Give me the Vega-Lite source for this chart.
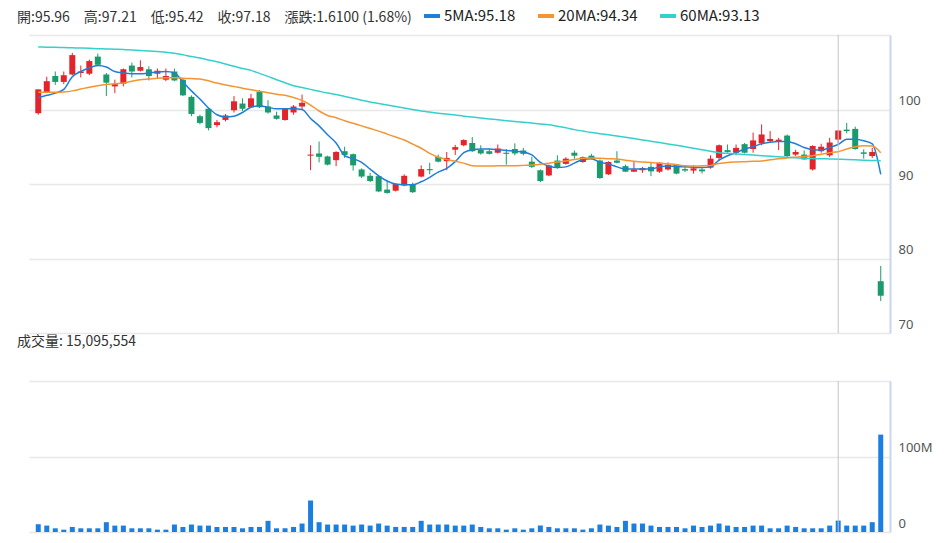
{
  "$schema": "https://vega.github.io/schema/vega-lite/v6.json",
  "padding": {"left": 17, "top": 6, "right": 5, "bottom": 5},
  "spacing": 0,
  "config": {
    "view": {"stroke": null},
    "font": "Noto Sans CJK TC",
    "title": {"font": "Noto Sans CJK TC", "fontWeight": "normal", "fontSize": 14, "color": "#333333", "anchor": "start"}
  },
  "datasets": {
    "k": [
      {"i":0,"o":99.5,"h":102.7,"l":99.3,"c":102.7,"v":10300000,"ma5":101.6,"ma20":102.3,"ma60":108.4},
      {"i":1,"o":102.3,"h":104.4,"l":102.2,"c":103.8,"v":8500000,"ma5":101.9,"ma20":102.3,"ma60":108.37},
      {"i":2,"o":104.5,"h":105.1,"l":103.3,"c":103.7,"v":4900000,"ma5":102.2,"ma20":102.3,"ma60":108.34},
      {"i":3,"o":103.7,"h":105.1,"l":103.4,"c":104.6,"v":3100000,"ma5":102.7,"ma20":102.35,"ma60":108.31},
      {"i":4,"o":104.7,"h":107.6,"l":104.6,"c":107.3,"v":6700000,"ma5":104.4,"ma20":102.5,"ma60":108.28},
      {"i":5,"o":104.9,"h":105.9,"l":104.3,"c":105.1,"v":4900000,"ma5":105.1,"ma20":102.75,"ma60":108.25},
      {"i":6,"o":104.8,"h":106.7,"l":104.6,"c":106.5,"v":4900000,"ma5":105.6,"ma20":103.0,"ma60":108.21},
      {"i":7,"o":107.1,"h":107.5,"l":105.8,"c":106.0,"v":4900000,"ma5":105.9,"ma20":103.2,"ma60":108.17},
      {"i":8,"o":104.7,"h":104.9,"l":101.8,"c":103.6,"v":13000000,"ma5":105.7,"ma20":103.35,"ma60":108.13},
      {"i":9,"o":103.1,"h":104.0,"l":102.2,"c":103.4,"v":8500000,"ma5":105.1,"ma20":103.45,"ma60":108.09},
      {"i":10,"o":103.45,"h":105.5,"l":103.1,"c":105.4,"v":8500000,"ma5":104.9,"ma20":103.55,"ma60":108.05},
      {"i":11,"o":105.9,"h":106.3,"l":104.3,"c":105.1,"v":4900000,"ma5":104.8,"ma20":103.8,"ma60":107.98},
      {"i":12,"o":105.2,"h":106.6,"l":105.1,"c":105.7,"v":4900000,"ma5":104.8,"ma20":104.0,"ma60":107.91},
      {"i":13,"o":105.4,"h":105.8,"l":103.9,"c":104.5,"v":4900000,"ma5":104.9,"ma20":104.1,"ma60":107.84},
      {"i":14,"o":104.8,"h":105.5,"l":104.2,"c":105.2,"v":3100000,"ma5":105.05,"ma20":104.2,"ma60":107.77},
      {"i":15,"o":104.0,"h":105.5,"l":103.8,"c":104.5,"v":3100000,"ma5":105.1,"ma20":104.25,"ma60":107.7},
      {"i":16,"o":105.1,"h":105.5,"l":103.8,"c":103.9,"v":9900000,"ma5":104.9,"ma20":104.25,"ma60":107.55},
      {"i":17,"o":104.0,"h":104.2,"l":101.8,"c":101.9,"v":6700000,"ma5":103.7,"ma20":104.2,"ma60":107.35},
      {"i":18,"o":101.7,"h":101.9,"l":99.1,"c":99.4,"v":9900000,"ma5":102.5,"ma20":104.15,"ma60":107.1},
      {"i":19,"o":99.1,"h":99.3,"l":98.0,"c":98.2,"v":8500000,"ma5":101.4,"ma20":104.1,"ma60":106.9},
      {"i":20,"o":100.1,"h":100.2,"l":97.2,"c":97.5,"v":8500000,"ma5":100.2,"ma20":103.85,"ma60":106.65},
      {"i":21,"o":97.9,"h":98.6,"l":97.6,"c":98.3,"v":6700000,"ma5":99.3,"ma20":103.55,"ma60":106.4},
      {"i":22,"o":98.6,"h":99.4,"l":98.4,"c":99.2,"v":6700000,"ma5":99.0,"ma20":103.3,"ma60":106.1},
      {"i":23,"o":99.9,"h":101.8,"l":99.6,"c":101.1,"v":6700000,"ma5":99.1,"ma20":103.1,"ma60":105.8},
      {"i":24,"o":100.8,"h":101.5,"l":99.8,"c":100.1,"v":4900000,"ma5":99.6,"ma20":102.85,"ma60":105.5},
      {"i":25,"o":100.3,"h":102.1,"l":100.2,"c":101.5,"v":6700000,"ma5":100.3,"ma20":102.65,"ma60":105.25},
      {"i":26,"o":102.4,"h":102.6,"l":100.2,"c":100.3,"v":6700000,"ma5":100.5,"ma20":102.45,"ma60":104.85},
      {"i":27,"o":100.4,"h":101.25,"l":99.45,"c":99.6,"v":14800000,"ma5":100.3,"ma20":102.25,"ma60":104.45},
      {"i":28,"o":99.2,"h":99.7,"l":98.65,"c":98.75,"v":4900000,"ma5":100.1,"ma20":102.05,"ma60":104.0},
      {"i":29,"o":98.6,"h":100.2,"l":98.5,"c":100.1,"v":4900000,"ma5":100.1,"ma20":101.9,"ma60":103.6},
      {"i":30,"o":99.6,"h":100.6,"l":99.3,"c":100.4,"v":6700000,"ma5":100.1,"ma20":101.6,"ma60":103.2},
      {"i":31,"o":100.4,"h":102.0,"l":100.0,"c":100.9,"v":11200000,"ma5":100.0,"ma20":101.2,"ma60":102.95},
      {"i":32,"o":93.8,"h":95.2,"l":91.85,"c":93.95,"v":41700000,"ma5":98.8,"ma20":100.6,"ma60":102.7},
      {"i":33,"o":94.1,"h":95.7,"l":92.9,"c":93.65,"v":13000000,"ma5":97.8,"ma20":99.8,"ma60":102.45},
      {"i":34,"o":93.7,"h":93.8,"l":92.5,"c":92.6,"v":9900000,"ma5":96.6,"ma20":99.2,"ma60":102.2},
      {"i":35,"o":93.2,"h":94.4,"l":92.4,"c":94.3,"v":9900000,"ma5":95.5,"ma20":98.9,"ma60":102.0},
      {"i":36,"o":94.4,"h":95.0,"l":93.5,"c":93.9,"v":9900000,"ma5":93.8,"ma20":98.5,"ma60":101.75},
      {"i":37,"o":94.0,"h":94.1,"l":91.8,"c":92.5,"v":8500000,"ma5":93.4,"ma20":98.15,"ma60":101.5},
      {"i":38,"o":91.95,"h":92.1,"l":90.8,"c":91.0,"v":9900000,"ma5":92.9,"ma20":97.8,"ma60":101.25},
      {"i":39,"o":91.1,"h":91.5,"l":90.25,"c":90.4,"v":8500000,"ma5":92.0,"ma20":97.45,"ma60":101.0},
      {"i":40,"o":91.05,"h":91.15,"l":88.9,"c":89.0,"v":11200000,"ma5":91.1,"ma20":97.1,"ma60":100.8},
      {"i":41,"o":89.25,"h":90.4,"l":88.7,"c":88.8,"v":8500000,"ma5":90.4,"ma20":96.7,"ma60":100.6},
      {"i":42,"o":89.1,"h":90.1,"l":89.0,"c":90.0,"v":6700000,"ma5":90.0,"ma20":96.3,"ma60":100.4},
      {"i":43,"o":89.8,"h":91.3,"l":89.7,"c":91.1,"v":6700000,"ma5":89.9,"ma20":95.9,"ma60":100.2},
      {"i":44,"o":90.0,"h":90.2,"l":88.8,"c":88.9,"v":6700000,"ma5":89.9,"ma20":95.35,"ma60":100.0},
      {"i":45,"o":91.0,"h":92.5,"l":90.9,"c":92.0,"v":14800000,"ma5":90.3,"ma20":94.8,"ma60":99.8},
      {"i":46,"o":92.0,"h":92.85,"l":91.3,"c":91.85,"v":9900000,"ma5":90.9,"ma20":94.1,"ma60":99.65},
      {"i":47,"o":93.65,"h":93.95,"l":92.9,"c":93.0,"v":9900000,"ma5":91.6,"ma20":93.6,"ma60":99.5},
      {"i":48,"o":93.06,"h":94.3,"l":91.85,"c":93.5,"v":9900000,"ma5":92.1,"ma20":93.3,"ma60":99.38},
      {"i":49,"o":94.6,"h":95.25,"l":93.9,"c":94.95,"v":8500000,"ma5":93.0,"ma20":93.05,"ma60":99.25},
      {"i":50,"o":95.2,"h":96.0,"l":95.05,"c":95.9,"v":8500000,"ma5":94.2,"ma20":92.8,"ma60":99.1},
      {"i":51,"o":95.5,"h":96.3,"l":94.3,"c":94.4,"v":9900000,"ma5":94.6,"ma20":92.45,"ma60":98.98},
      {"i":52,"o":94.6,"h":95.2,"l":93.95,"c":94.1,"v":6700000,"ma5":94.7,"ma20":92.4,"ma60":98.86},
      {"i":53,"o":94.4,"h":94.75,"l":93.95,"c":94.05,"v":4900000,"ma5":94.7,"ma20":92.4,"ma60":98.74},
      {"i":54,"o":94.2,"h":95.3,"l":94.1,"c":94.77,"v":4900000,"ma5":94.6,"ma20":92.45,"ma60":98.62},
      {"i":55,"o":94.2,"h":94.7,"l":92.6,"c":94.05,"v":3100000,"ma5":94.5,"ma20":92.45,"ma60":98.5},
      {"i":56,"o":94.7,"h":95.45,"l":93.85,"c":94.1,"v":4900000,"ma5":94.4,"ma20":92.45,"ma60":98.4},
      {"i":57,"o":94.5,"h":94.85,"l":93.85,"c":94.05,"v":3100000,"ma5":94.3,"ma20":92.5,"ma60":98.3},
      {"i":58,"o":93.0,"h":93.65,"l":92.15,"c":92.3,"v":4900000,"ma5":93.9,"ma20":92.55,"ma60":98.18},
      {"i":59,"o":91.85,"h":91.95,"l":90.25,"c":90.4,"v":8500000,"ma5":92.9,"ma20":92.65,"ma60":98.06},
      {"i":60,"o":91.15,"h":92.6,"l":91.05,"c":92.5,"v":6700000,"ma5":92.4,"ma20":92.8,"ma60":97.95},
      {"i":61,"o":93.15,"h":93.85,"l":92.05,"c":92.2,"v":4900000,"ma5":92.2,"ma20":92.95,"ma60":97.75},
      {"i":62,"o":92.7,"h":93.6,"l":92.6,"c":93.4,"v":4900000,"ma5":92.3,"ma20":93.1,"ma60":97.55},
      {"i":63,"o":94.2,"h":94.5,"l":93.4,"c":93.8,"v":4900000,"ma5":92.8,"ma20":93.3,"ma60":97.3},
      {"i":64,"o":92.95,"h":93.7,"l":92.85,"c":93.6,"v":3100000,"ma5":93.3,"ma20":93.45,"ma60":97.1},
      {"i":65,"o":93.8,"h":94.05,"l":93.3,"c":93.4,"v":4900000,"ma5":93.4,"ma20":93.5,"ma60":96.9},
      {"i":66,"o":93.15,"h":93.3,"l":90.7,"c":90.8,"v":9900000,"ma5":92.9,"ma20":93.45,"ma60":96.75},
      {"i":67,"o":91.3,"h":93.05,"l":91.2,"c":92.95,"v":8500000,"ma5":92.7,"ma20":93.4,"ma60":96.6},
      {"i":68,"o":93.15,"h":94.4,"l":92.75,"c":92.85,"v":6700000,"ma5":92.3,"ma20":93.35,"ma60":96.45},
      {"i":69,"o":92.4,"h":92.6,"l":91.6,"c":91.65,"v":14800000,"ma5":92.0,"ma20":93.2,"ma60":96.28},
      {"i":70,"o":91.65,"h":93.0,"l":91.6,"c":91.95,"v":11200000,"ma5":92.0,"ma20":93.05,"ma60":96.1},
      {"i":71,"o":91.85,"h":92.3,"l":91.5,"c":92.15,"v":11200000,"ma5":92.0,"ma20":92.95,"ma60":95.92},
      {"i":72,"o":92.3,"h":92.85,"l":91.05,"c":91.7,"v":8500000,"ma5":92.0,"ma20":92.9,"ma60":95.74},
      {"i":73,"o":91.65,"h":92.9,"l":91.5,"c":92.85,"v":6700000,"ma5":92.3,"ma20":92.8,"ma60":95.56},
      {"i":74,"o":91.95,"h":92.9,"l":91.8,"c":92.6,"v":6700000,"ma5":92.4,"ma20":92.7,"ma60":95.38},
      {"i":75,"o":92.6,"h":92.7,"l":91.3,"c":91.4,"v":6700000,"ma5":92.35,"ma20":92.6,"ma60":95.2},
      {"i":76,"o":92.0,"h":92.4,"l":91.6,"c":91.8,"v":4900000,"ma5":92.3,"ma20":92.45,"ma60":95.0},
      {"i":77,"o":91.8,"h":92.5,"l":91.4,"c":92.1,"v":8500000,"ma5":92.25,"ma20":92.4,"ma60":94.8},
      {"i":78,"o":91.95,"h":92.3,"l":91.4,"c":91.7,"v":6700000,"ma5":92.2,"ma20":92.45,"ma60":94.6},
      {"i":79,"o":92.2,"h":93.85,"l":92.05,"c":93.4,"v":8500000,"ma5":92.3,"ma20":92.5,"ma60":94.4},
      {"i":80,"o":93.5,"h":95.3,"l":93.1,"c":95.2,"v":11200000,"ma5":93.2,"ma20":92.75,"ma60":94.2},
      {"i":81,"o":94.55,"h":95.3,"l":94.2,"c":94.3,"v":8500000,"ma5":93.8,"ma20":92.9,"ma60":94.12},
      {"i":82,"o":94.2,"h":95.3,"l":93.85,"c":94.85,"v":6700000,"ma5":94.2,"ma20":92.95,"ma60":94.04},
      {"i":83,"o":95.35,"h":95.5,"l":94.1,"c":94.2,"v":6700000,"ma5":94.7,"ma20":93.0,"ma60":93.96},
      {"i":84,"o":94.7,"h":96.9,"l":94.2,"c":95.85,"v":8500000,"ma5":95.0,"ma20":93.05,"ma60":93.88},
      {"i":85,"o":95.45,"h":98.0,"l":95.2,"c":96.65,"v":8500000,"ma5":95.4,"ma20":93.1,"ma60":93.8},
      {"i":86,"o":95.75,"h":97.1,"l":95.6,"c":96.05,"v":4900000,"ma5":95.6,"ma20":93.25,"ma60":93.73},
      {"i":87,"o":95.65,"h":96.2,"l":94.55,"c":95.95,"v":4900000,"ma5":95.7,"ma20":93.4,"ma60":93.66},
      {"i":88,"o":96.5,"h":96.65,"l":93.6,"c":93.75,"v":8500000,"ma5":95.7,"ma20":93.5,"ma60":93.59},
      {"i":89,"o":93.95,"h":94.6,"l":93.75,"c":94.3,"v":6700000,"ma5":95.4,"ma20":93.6,"ma60":93.52},
      {"i":90,"o":93.95,"h":94.5,"l":93.25,"c":93.3,"v":4900000,"ma5":94.9,"ma20":93.7,"ma60":93.45},
      {"i":91,"o":91.95,"h":95.2,"l":91.8,"c":95.1,"v":4900000,"ma5":94.6,"ma20":93.8,"ma60":93.42},
      {"i":92,"o":94.4,"h":95.4,"l":94.2,"c":95.0,"v":4900000,"ma5":94.55,"ma20":94.0,"ma60":93.39},
      {"i":93,"o":93.85,"h":96.2,"l":93.6,"c":95.57,"v":8500000,"ma5":94.9,"ma20":94.2,"ma60":93.36},
      {"i":94,"o":95.96,"h":97.21,"l":95.42,"c":97.18,"v":15095554,"ma5":95.3,"ma20":94.34,"ma60":93.33},
      {"i":95,"o":97.3,"h":98.2,"l":96.8,"c":97.1,"v":8500000,"ma5":96.0,"ma20":94.7,"ma60":93.3},
      {"i":96,"o":97.4,"h":97.7,"l":94.6,"c":94.7,"v":8500000,"ma5":96.0,"ma20":95.0,"ma60":93.25},
      {"i":97,"o":94.25,"h":94.65,"l":93.4,"c":94.05,"v":8500000,"ma5":95.8,"ma20":95.15,"ma60":93.2},
      {"i":98,"o":93.75,"h":94.85,"l":93.5,"c":94.3,"v":13000000,"ma5":95.4,"ma20":95.1,"ma60":93.16},
      {"i":99,"o":76.95,"h":79.0,"l":74.3,"c":75.0,"v":129000000,"ma5":91.3,"ma20":94.2,"ma60":93.13}
    ]
  },
  "vconcat": [
    {
      "width": 861,
      "height": 298,
      "title": {"text": "開:95.96\u2003高:97.21\u2003低:95.42\u2003收:97.18\u2003漲跌:1.6100 (1.68%)", "dx": -12, "offset": 10},
      "data": {"name": "k"},
      "layer": [
        {
          "mark": {"type": "rule", "strokeWidth": 1},
          "encoding": {
            "x": {"field": "i", "type": "quantitative", "scale": {"domain": [-0.5, 99.5], "nice": false, "zero": false}, "axis": null},
            "y": {"field": "l", "type": "quantitative", "scale": {"domain": [70, 110], "nice": false, "zero": false},
                  "axis": {"orient": "right", "title": null, "values": [70, 80, 90, 100, 110], "grid": true, "gridColor": "#e8e8e8", "gridWidth": 1.5,
                           "domain": true, "domainColor": "#c8d6ee", "domainWidth": 2, "ticks": false, "labelAlign": "left", "labelBaseline": "bottom",
                           "labelPadding": 8, "labelOffset": -2, "labelFontSize": 13, "labelColor": "#555555", "labelFont": "Noto Sans",
                           "labelExpr": "datum.value >= 110 ? '' : datum.label"}},
            "y2": {"field": "h"},
            "color": {"condition": {"test": "datum.c >= datum.o", "value": "#e3242b"}, "value": "#1b9b6c"}
          }
        },
        {
          "mark": {"type": "bar", "size": 6},
          "encoding": {
            "x": {"field": "i", "type": "quantitative"},
            "y": {"field": "o", "type": "quantitative"},
            "y2": {"field": "c"},
            "color": {"condition": {"test": "datum.c >= datum.o", "value": "#e3242b"}, "value": "#1b9b6c"}
          }
        },
        {
          "transform": [{"fold": ["ma5", "ma20", "ma60"], "as": ["ma", "val"]}],
          "mark": {"type": "line", "strokeWidth": 1.5, "interpolate": "monotone"},
          "encoding": {
            "x": {"field": "i", "type": "quantitative"},
            "y": {"field": "val", "type": "quantitative"},
            "color": {"field": "ma", "type": "nominal",
                      "scale": {"domain": ["ma5", "ma20", "ma60"], "range": ["#1f7fd6", "#f39530", "#35d0cc"]},
                      "legend": {"orient": "none", "legendX": 393, "legendY": -29, "direction": "horizontal", "title": null,
                                 "symbolType": "stroke", "symbolStrokeWidth": 4, "symbolSize": 256, "labelFontSize": 15,
                                 "labelColor": "#222222", "labelFont": "Noto Sans CJK TC", "columnPadding": 14, "labelOffset": 2,
                                 "labelExpr": "datum.label == 'ma5' ? '5MA:95.18' : datum.label == 'ma20' ? '20MA:94.34' : '60MA:93.13'"}}
          }
        },
        {
          "transform": [{"filter": "datum.i == 94"}],
          "mark": {"type": "rule", "color": "#c4c4c4", "strokeWidth": 1},
          "encoding": {"x": {"field": "i", "type": "quantitative"}}
        }
      ]
    },
    {
      "width": 861,
      "height": 151,
      "title": {"text": "成交量: 15,095,554", "dx": -12, "offset": 32},
      "data": {"name": "k"},
      "layer": [
        {
          "mark": {"type": "bar", "size": 5, "color": "#1a7fe0"},
          "encoding": {
            "x": {"field": "i", "type": "quantitative", "scale": {"domain": [-0.5, 99.5], "nice": false, "zero": false}, "axis": null},
            "y": {"field": "v", "type": "quantitative", "scale": {"domain": [0, 200000000], "nice": false},
                  "axis": {"orient": "right", "title": null, "values": [0, 100000000, 200000000], "grid": true, "gridColor": "#e8e8e8", "gridWidth": 1.5,
                           "domain": true, "domainColor": "#c8d6ee", "domainWidth": 2, "ticks": false, "labelAlign": "left", "labelBaseline": "bottom",
                           "labelPadding": 8, "labelOffset": -2, "labelFontSize": 13, "labelColor": "#555555", "labelFont": "Noto Sans",
                           "labelExpr": "datum.value == 0 ? '0' : datum.value >= 200000000 ? '' : (datum.value / 1000000) + 'M'"}}
          }
        },
        {
          "transform": [{"filter": "datum.i == 94"}],
          "mark": {"type": "rule", "color": "#c4c4c4", "strokeWidth": 1},
          "encoding": {"x": {"field": "i", "type": "quantitative"}}
        }
      ]
    }
  ]
}
